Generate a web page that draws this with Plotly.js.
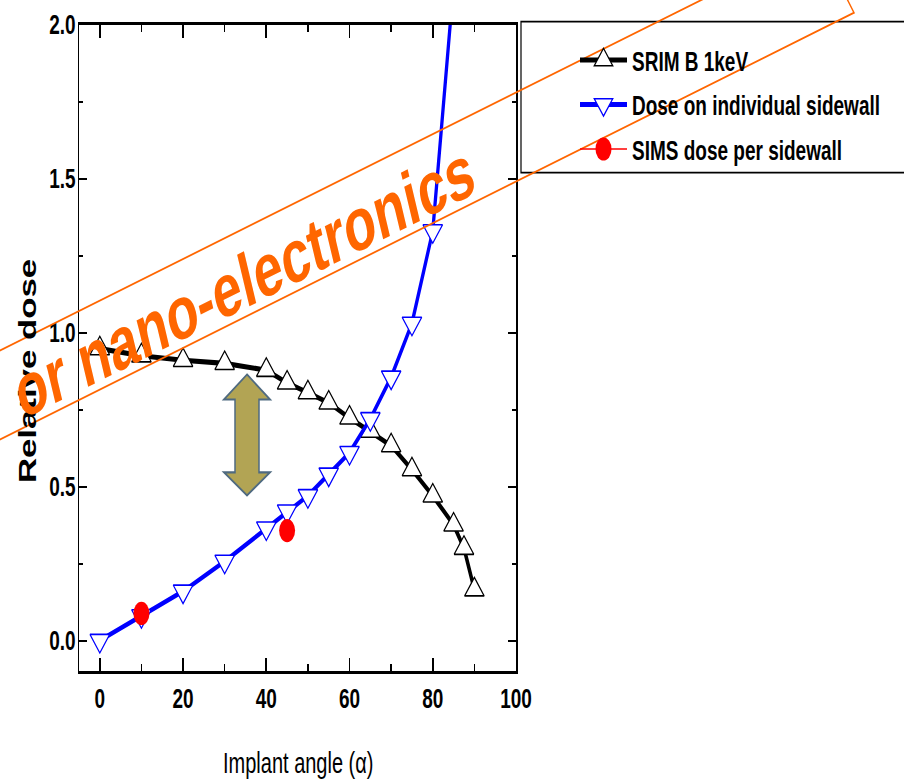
<!DOCTYPE html>
<html>
<head>
<meta charset="utf-8">
<script src="https://cdn.plot.ly/plotly-3.0.1.min.js"></script>
<style>
  html, body { margin: 0; padding: 0; background: #ffffff; }
  #wrap { width: 904px; height: 783px; position: relative; }
  /* the original figure is a slide picture stretched vertically; reproduce that stretch */
  #chart { position: absolute; left: 0; top: 0; width: 904px; height: 540px; transform: scaleY(1.45); transform-origin: 0 0; }
</style>
</head>
<body>
<div id="wrap"><div id="chart"></div></div>
<script>
// ---- data ----
const seriesNames = ["SRIM B 1keV", "Dose on individual sidewall", "SIMS dose per sidewall"];

const srimAngle = [0, 10, 20, 30, 40, 45, 50, 55, 60, 65, 70, 75, 80, 85, 87.5, 90];
const srimDose  = [0.948, 0.925, 0.91, 0.90, 0.878, 0.837, 0.805, 0.772, 0.723, 0.68, 0.633, 0.555, 0.47, 0.376, 0.30, 0.165];

const sidewallAngle = [0, 10, 20, 30, 40, 45, 50, 55, 60, 65, 70, 75, 80, 85];
const sidewallDose  = [0, 0.08, 0.16, 0.257, 0.365, 0.42, 0.47, 0.54, 0.61, 0.72, 0.855, 1.03, 1.33, 2.13];

const simsAngle = [10, 45];
const simsDose  = [0.088, 0.357];

const xTickVals = [0, 20, 40, 60, 80, 100];
const yTickVals = [0.0, 0.5, 1.0, 1.5, 2.0];
const yTickText = ["0.0", "0.5", "1.0", "1.5", "2.0"];

const xTitle = "Implant angle (\u03b1)";
const yTitle = "Relative dose";
const watermarkText = "or nano-electronics";

// ---- geometry (reference pixels -> paper fractions) ----
const K = 1.45;                       // vertical stretch applied by CSS
const PL = 79, PR = 516, PT = 24, PB = 671;
const W = 904, H = 783;
const px = v => (v - PL) / (PR - PL);
const py = v => (PB - v) / (PB - PT);

const SANS = "Liberation Sans, Arial, Helvetica, sans-serif";
const ORANGE = "#ff6600";

// SIMS points: gaps between them so no line joins them in the plot,
// while the legend still shows the thin red line of the original.
const simsX = [], simsY = [];
simsAngle.forEach((a, i) => { if (i) { simsX.push(null); simsY.push(null); } simsX.push(a); simsY.push(simsDose[i]); });

const traces = [
  {
    name: seriesNames[0], x: srimAngle, y: srimDose, type: "scatter", mode: "lines+markers",
    legendgroup: "a",
    line: { color: "#000000", width: 3.5 },
    marker: { symbol: "triangle-up", size: 17, color: "#ffffff", line: { color: "#000000", width: 1.1 } }
  },
  {
    name: seriesNames[1], x: sidewallAngle, y: sidewallDose, type: "scatter", mode: "lines+markers",
    legendgroup: "b",
    line: { color: "#0000ff", width: 3.3 },
    marker: { symbol: "triangle-down", size: 17, color: "#ffffff", line: { color: "#0000ff", width: 1.1 } }
  },
  {
    name: seriesNames[2], x: simsX, y: simsY, type: "scatter", mode: "lines+markers",
    legendgroup: "c", connectgaps: false,
    line: { color: "#ff0000", width: 1 },
    marker: { symbol: "circle", size: 16, color: "#ff0000" }
  }
];

// double arrow outline (reference pixels)
const ax = 247, aTop = 374, aHB1 = 399, aHB2 = 472, aBot = 495, hw = 23, sw = 12;
const arrowPts = [[ax, aTop], [ax + hw, aHB1], [ax + sw, aHB1], [ax + sw, aHB2], [ax + hw, aHB2], [ax, aBot],
                  [ax - hw, aHB2], [ax - sw, aHB2], [ax - sw, aHB1], [ax - hw, aHB1]];
const arrowPath = "M" + arrowPts.map(p => px(p[0]) + "," + py(p[1])).join(" L") + " Z";

// watermark frame (reference pixels)
const wmPts = [[-40, 370], [818, -59], [854, 12], [-40, 459]];
const wmPath = "M" + wmPts.map(p => px(p[0]) + "," + py(p[1])).join(" L");

const wmAngle = -Math.atan(0.5 / K) * 180 / Math.PI;

const layout = {
  width: W, height: H / K,
  margin: { l: PL, r: W - PR, t: PT / K, b: (H - PB) / K, pad: 0, autoexpand: false },
  paper_bgcolor: "#ffffff", plot_bgcolor: "#ffffff",
  showlegend: true,
  font: { family: SANS, color: "#000000" },
  xaxis: {
    range: [-5, 100], showgrid: false, zeroline: false,
    showline: true, linecolor: "#000000", linewidth: 1.5, mirror: "ticks",
    ticks: "inside", ticklen: 9, tickwidth: 1.6, tickcolor: "#000000",
    tickvals: xTickVals,
    tickfont: { family: SANS, size: 19, weight: 700, color: "#000000" },
    ticklabelstandoff: 1,
    minor: { ticks: "inside", ticklen: 5, tickwidth: 1.6, tickcolor: "#000000", dtick: 10, showgrid: false }
  },
  yaxis: {
    range: [-0.1, 2.0], showgrid: false, zeroline: false,
    showline: true, linecolor: "#000000", linewidth: 1.5, mirror: "ticks",
    ticks: "inside", ticklen: 8, tickwidth: 1.4, tickcolor: "#000000",
    tickvals: yTickVals, ticktext: yTickText,
    tickfont: { family: SANS, size: 19, weight: 700, color: "#000000" },
    ticklabelstandoff: -2,
    minor: { ticks: "inside", ticklen: 4, tickwidth: 1.4, tickcolor: "#000000", dtick: 0.25, showgrid: false }
  },
  legend: {
    x: px(575), y: py(32), xanchor: "left", yanchor: "top",
    bgcolor: "rgba(0,0,0,0)", borderwidth: 0,
    font: { family: SANS, size: 19, weight: 700, color: "#000000" },
    itemwidth: 47, tracegroupgap: 3, traceorder: "grouped", itemclick: false
  },
  shapes: [
    { type: "rect", xref: "paper", yref: "paper", x0: px(521), x1: px(912), y0: py(21), y1: py(172),
      line: { color: "#000000", width: 1.2 }, fillcolor: "rgba(0,0,0,0)", layer: "above" },
    { type: "path", xref: "paper", yref: "paper", path: arrowPath,
      fillcolor: "#b2a454", line: { color: "#4f6a80", width: 1.5 }, layer: "above" },
    { type: "path", xref: "paper", yref: "paper", path: wmPath,
      line: { color: ORANGE, width: 1.3 }, fillcolor: "rgba(0,0,0,0)", layer: "above" }
  ],
  annotations: [
    { text: xTitle, xref: "paper", yref: "paper", x: px(298), y: py(763), xanchor: "center", yanchor: "middle",
      showarrow: false, font: { family: SANS, size: 20, color: "#000000" } },
    { text: yTitle, xref: "paper", yref: "paper", x: px(27), y: py(371), xanchor: "center", yanchor: "middle",
      textangle: -90, showarrow: false, font: { family: SANS, size: 24, weight: 700, color: "#000000" } },
    { text: watermarkText, xref: "paper", yref: "paper", x: px(244), y: py(281), xanchor: "center", yanchor: "middle",
      textangle: wmAngle, showarrow: false, font: { family: SANS, size: 52, weight: 700, color: ORANGE } }
  ]
};

Plotly.newPlot("chart", traces, layout, { staticPlot: true, displayModeBar: false });
</script>
</body>
</html>
